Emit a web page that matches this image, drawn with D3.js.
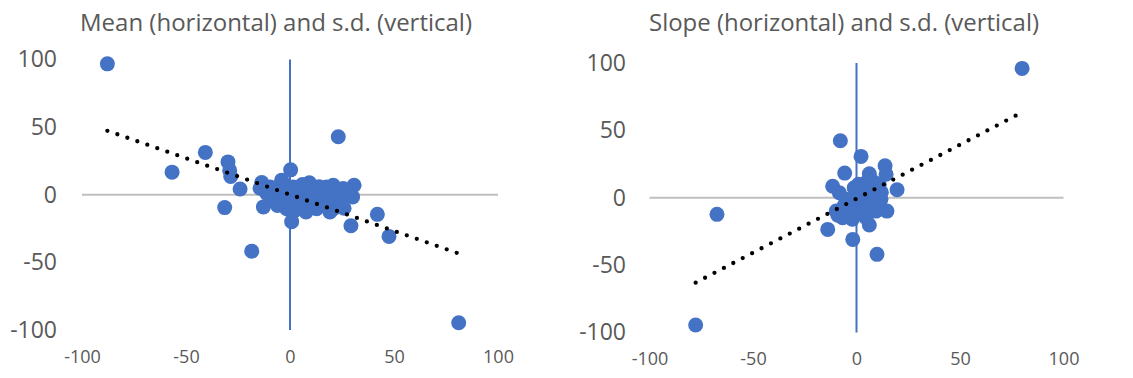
<!DOCTYPE html>
<html>
<head>
<meta charset="utf-8">
<script src="https://cdn.jsdelivr.net/npm/d3@7"></script>
<style>
  body { margin: 0; background: #fff; }
  svg { display: block; }
</style>
</head>
<body>
<script>
// mean vs s.d. (left panel)
const meanPoints = [
  [-87.8, 96.8], [81.1, -94.6], [23.2, 42.9], [-40.7, 31.3], [-56.7, 16.7],
  [-29.8, 24.3], [-29, 18], [-28.5, 13.5], [-24, 4.3], [-31.4, -9.5],
  [-18.4, -41.7], [0.3, 18.4], [0.8, -19.9], [29.3, -22.9], [42, -14.5],
  [47.6, -30.8], [-13.6, 9], [-12.8, -9], [-4, 10.8], [9.3, 8.8],
  [20.8, 7], [30.8, 7], [30.1, -1.6], [24, 0.9], [19.2, -12.8],
  [7.7, -12.8], [12.8, -10.3], [-1.6, -10.3], [-8, -4], [-11.2, 0.9],
  [1.6, 5.8], [4.8, -2.8], [11.2, 2], [16, 3.3], [25.6, 4.6],
  [28, 3], [-6.4, 1], [-9.6, 5.8], [14.4, -3.6], [22.4, -9],
  [20.8, -10.3], [-3.2, -5.2], [9.6, -6.5], [17.6, 5.8], [6, 7.5],
  [-14.4, 4.8], [-6, -8], [0, -6], [3, 3], [6, -2], [8, 4], [12, -8],
  [15, 0], [18, -6], [24, -5], [26, -10], [-2, 4], [5, -9], [10, -2],
  [2, -12], [14, 6], [20, 2]
];
const meanTrend = [[-87.8, 47.3], [80.3, -43]];

// slope vs s.d. (right panel)
const slopePoints = [
  [80, 96], [-77.7, -94.4], [-67.4, -12.3], [-7.8, 42.3], [2.2, 30.7],
  [13.8, 23.7], [14.3, 17.4], [6.2, 17.8], [-5.7, 18.3], [19.6, 5.9],
  [-11.5, 8.5], [14.7, -9.9], [-13.9, -23.5], [-1.8, -30.9], [6.2, -20.2],
  [9.9, -42], [-6.7, -14.8], [-1.8, -12.3], [5.4, 12.4], [3, 7.4],
  [10.2, 3.7], [7.8, -4.9], [9.4, -9.9], [4.6, -14.8], [-5.1, -1.2],
  [-8.3, 3.7], [-0.2, 3.7], [1.4, -4.9], [-3.4, -7.4], [-9.8, -9.9],
  [4.6, -1.2], [7, 1.2], [-1.1, 7.4], [11.8, -1.2],
  [-3, -3], [0, -8], [2, 2], [4, 6], [6, -6], [8, 8], [10, -5], [12, 4],
  [-6, -6], [-9, -13], [3, -10], [8, 12], [11, 10], [5, -12], [-2, -16], [1, 10]
];
const slopeTrend = [[-77.7, -63], [77, 61]];

const axisTicks = [-100, -50, 0, 50, 100];
const titles = ['Mean (horizontal) and s.d. (vertical)', 'Slope (horizontal) and s.d. (vertical)'];

const W = 1133, H = 378;
const blue = '#4472C4', grey = '#595959';
const font = '"Open Sans", "Liberation Sans", Arial, sans-serif';

const svg = d3.select('body').append('svg')
  .attr('width', W).attr('height', H)
  .style('font-family', font);

const panels = [
  { points: meanPoints, trend: meanTrend, title: titles[0],
    xr: [82, 498], yr: [330, 59.5], titleX: 276, titleW: 392, yLabelX: 57, xLabelY: 368 },
  { points: slopePoints, trend: slopeTrend, title: titles[1],
    xr: [649.5, 1063.5], yr: [332.5, 63], titleX: 844, titleW: 390, yLabelX: 626, xLabelY: 370 }
];

panels.forEach(p => {
  const x = d3.scaleLinear().domain([-100, 100]).range(p.xr);
  const y = d3.scaleLinear().domain([-100, 100]).range(p.yr);
  const g = svg.append('g');

  g.append('text')
    .attr('x', p.titleX).attr('y', 31)
    .attr('text-anchor', 'middle')
    .attr('font-size', 24)
    .attr('fill', grey)
    .attr('textLength', p.titleW)
    .attr('lengthAdjust', 'spacingAndGlyphs')
    .text(p.title);

  // y tick labels (plain hyphen, like the original)
  const yAxis = d3.axisLeft(y).tickValues(axisTicks).tickSize(0).tickPadding(0)
    .tickFormat(d => String(d));
  const yg = g.append('g').attr('transform', `translate(${p.yLabelX},0)`).call(yAxis);
  yg.select('.domain').remove();
  yg.selectAll('text').attr('font-size', 23).attr('fill', grey).attr('font-family', font);

  // x tick labels
  const xAxis = d3.axisBottom(x).tickValues(axisTicks).tickSize(0).tickPadding(0)
    .tickFormat(d => String(d));
  const xg = g.append('g').attr('transform', `translate(0,${p.xLabelY - 18})`).call(xAxis);
  xg.select('.domain').remove();
  xg.selectAll('text').attr('font-size', 18).attr('fill', grey).attr('font-family', font);

  // zero lines
  g.append('line')
    .attr('x1', x(-100)).attr('x2', x(100))
    .attr('y1', y(0)).attr('y2', y(0))
    .attr('stroke', '#bfbfbf').attr('stroke-width', 2);
  g.append('line')
    .attr('x1', x(0)).attr('x2', x(0))
    .attr('y1', y(100)).attr('y2', y(-100))
    .attr('stroke', blue).attr('stroke-width', 2);

  g.append('g').selectAll('circle')
    .data(p.points)
    .join('circle')
    .attr('cx', d => x(d[0]))
    .attr('cy', d => y(d[1]))
    .attr('r', 7.5)
    .attr('fill', blue);

  // dotted linear trendline, gap stretched so a dot sits on each end
  const line = d3.line().x(d => x(d[0])).y(d => y(d[1]));
  const trend = g.append('path')
    .datum(p.trend)
    .attr('d', line)
    .attr('fill', 'none')
    .attr('stroke', '#000')
    .attr('stroke-width', 4.3)
    .attr('stroke-linecap', 'round');
  const len = trend.node().getTotalLength();
  const gap = len / Math.round(len / 10.6) - 0.01;
  trend.attr('stroke-dasharray', `0 ${gap}`);
});
</script>
</body>
</html>
